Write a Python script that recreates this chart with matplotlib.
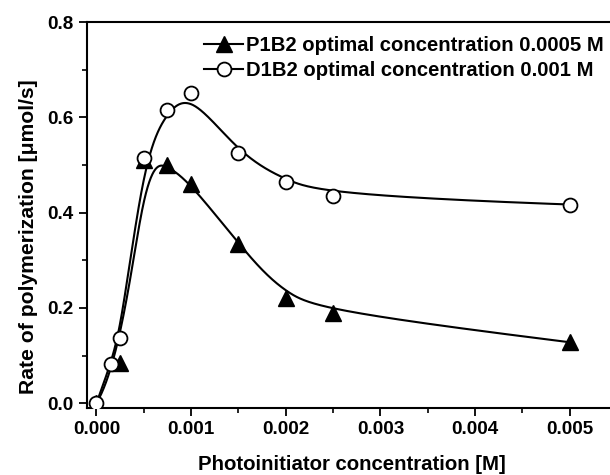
import matplotlib
matplotlib.use("Agg")
import matplotlib.pyplot as plt
import numpy as np
from matplotlib.ticker import MultipleLocator

plt.rcParams['font.family'] = ['Liberation Sans', 'DejaVu Sans']

# P1B2 (filled triangles)
p_x = [0.0, 0.00025, 0.0005, 0.00075, 0.001, 0.0015, 0.002, 0.0025, 0.005]
p_y = [0.0, 0.085, 0.51, 0.50, 0.46, 0.335, 0.22, 0.19, 0.128]
# D1B2 (open circles)
d_x = [0.0, 0.00015, 0.00025, 0.0005, 0.00075, 0.001, 0.0015, 0.002, 0.0025, 0.005]
d_y = [0.0, 0.083, 0.137, 0.515, 0.615, 0.65, 0.525, 0.465, 0.435, 0.417]

p_label = "P1B2 optimal concentration 0.0005 M"
d_label = "D1B2 optimal concentration 0.001 M"


def bspline(xs, ys, n=500, k=3):
    # clamped cubic B-spline using the measured points as control points
    pts = np.column_stack([xs, ys])
    m = len(pts)
    knots = np.concatenate([np.zeros(k), np.linspace(0, 1, m - k + 1), np.ones(k)])
    t = np.linspace(0, 1, n)
    B = np.zeros((n, len(knots) - 1))
    for i in range(len(knots) - 1):
        B[:, i] = (knots[i] <= t) & (t < knots[i + 1])
    B[-1, :] = 0
    B[-1, m - 1] = 1
    for d in range(1, k + 1):
        Bn = np.zeros((n, len(knots) - 1 - d))
        for i in range(len(knots) - 1 - d):
            a = knots[i + d] - knots[i]
            b = knots[i + d + 1] - knots[i + 1]
            term = np.zeros(n)
            if a > 0:
                term += (t - knots[i]) / a * B[:, i]
            if b > 0:
                term += (knots[i + d + 1] - t) / b * B[:, i + 1]
            Bn[:, i] = term
        B = Bn
    c = B @ pts
    return c[:, 0], c[:, 1]


fig = plt.figure(figsize=(6.1, 4.75), dpi=100)
ax = fig.add_axes([87 / 610, 67 / 475, 530 / 610, 386 / 475])

lw = 1.5
px, py = bspline(p_x, p_y)
dx, dy = bspline(d_x, d_y)
ax.plot(px, py, color='black', lw=lw, zorder=2)
ax.plot(dx, dy, color='black', lw=lw, zorder=2)
ax.plot(p_x, p_y, ls='none', marker='^', ms=11, color='black', zorder=3)
ax.plot(d_x, d_y, ls='none', marker='o', ms=10, mfc='white', mec='black', mew=1.3, zorder=4)

# legend proxies
ax.plot([], [], color='black', lw=lw, marker='^', ms=11, label=p_label)
ax.plot([], [], color='black', lw=lw, marker='o', ms=10, mfc='white', mew=1.3, label=d_label)
ax.legend(loc='upper left', bbox_to_anchor=(0.186, 1.012), frameon=False,
          handlelength=1.95, handletextpad=0.12, labelspacing=0.3,
          prop={'size': 14.6, 'weight': 'bold'})

ax.set_xlim(-0.0001, 0.0055)
ax.set_ylim(-0.01, 0.8)
ax.xaxis.set_major_locator(MultipleLocator(0.001))
ax.xaxis.set_minor_locator(MultipleLocator(0.0005))
ax.yaxis.set_major_locator(MultipleLocator(0.2))
ax.yaxis.set_minor_locator(MultipleLocator(0.1))
ax.xaxis.set_major_formatter(plt.FuncFormatter(lambda v, p: f"{v:.3f}"))
ax.yaxis.set_major_formatter(plt.FuncFormatter(lambda v, p: f"{v:.1f}"))

for s in ax.spines.values():
    s.set_linewidth(1.5)
ax.tick_params(which='major', direction='out', length=6, width=1.3, labelsize=13.6)
ax.tick_params(which='minor', direction='out', length=3.5, width=1.2)
for lab in ax.get_xticklabels() + ax.get_yticklabels():
    lab.set_fontweight('bold')

ax.set_xlabel("Photoinitiator concentration [M]", fontsize=14.7, fontweight='bold', labelpad=12)
ax.set_ylabel("Rate of polymerization [\u03bcmol/s]", fontsize=15.2, fontweight='bold')
ax.yaxis.set_label_coords(-0.092, 0.443)

fig.savefig("out.png", dpi=100)
